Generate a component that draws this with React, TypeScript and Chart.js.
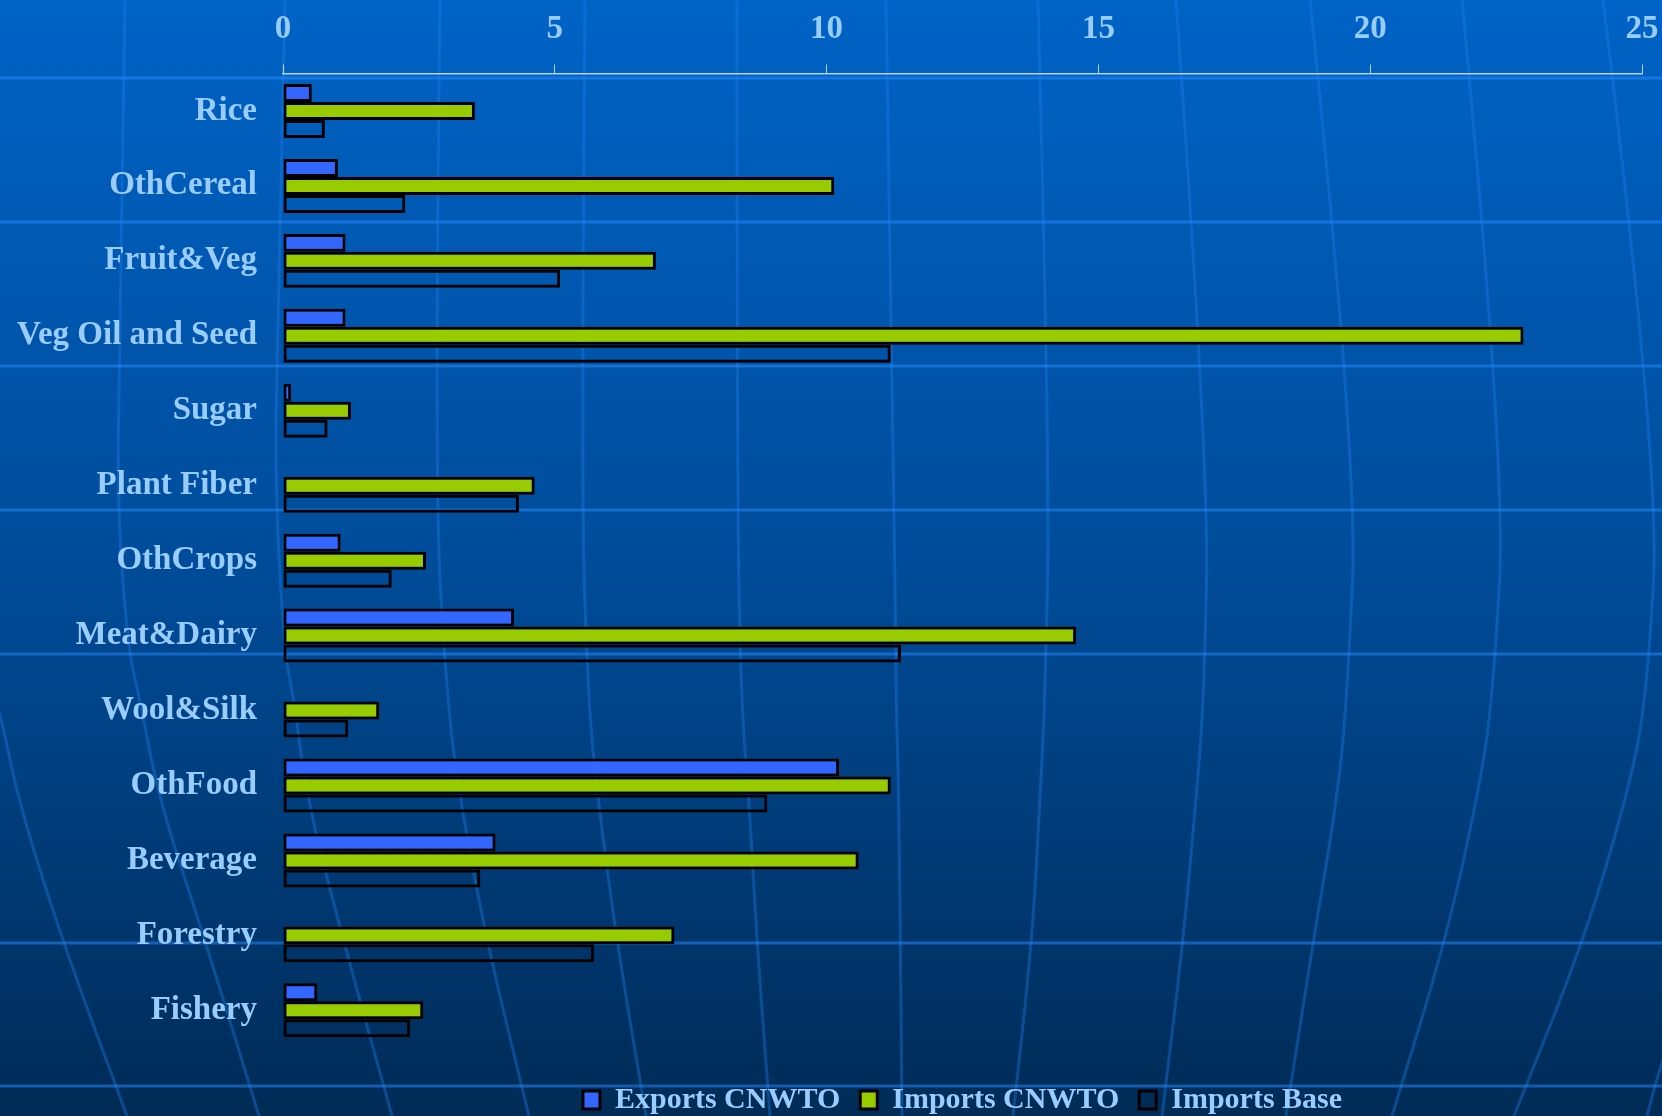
import React, { useEffect, useRef } from "react";
import { Chart, registerables } from "chart.js";

Chart.register(...registerables);

const categories = [
  "Rice",
  "OthCereal",
  "Fruit&Veg",
  "Veg Oil and Seed",
  "Sugar",
  "Plant Fiber",
  "OthCrops",
  "Meat&Dairy",
  "Wool&Silk",
  "OthFood",
  "Beverage",
  "Forestry",
  "Fishery",
];

const exportsCNWTO: (number | null)[] = [0.53, 1.01, 1.15, 1.15, 0.15, null, 1.06, 4.25, null, 10.23, 3.91, null, 0.63];
const importsCNWTO: number[] = [3.53, 10.14, 6.86, 22.82, 1.25, 4.63, 2.63, 14.59, 1.77, 11.18, 10.59, 7.2, 2.58];
const importsBase: number[] = [0.77, 2.25, 5.1, 11.18, 0.82, 4.34, 2.0, 11.37, 1.2, 8.91, 3.63, 5.72, 2.34];

const xTicks = [0, 5, 10, 15, 20, 25];

const FONT = "'Liberation Serif', 'Times New Roman', serif";
const LABEL = "#99CCFF";

// decorative globe background: meridian paths as [y, x] points
const meridians: number[][][] = [
  [[600, -30], [710, 0], [800, 18], [943, 63], [1116, 127]],
  [[0, 125], [350, 120], [500, 117], [650, 128], [700, 140], [800, 159], [943, 206], [1116, 259]],
  [[0, 285], [350, 277], [480, 275], [650, 284], [700, 294], [800, 307], [943, 344], [1116, 392]],
  [[0, 440], [480, 434], [700, 447], [800, 460], [943, 487], [1116, 529]],
  [[0, 585], [480, 581], [700, 588], [800, 598], [943, 617], [1116, 646]],
  [[0, 737], [480, 737], [700, 741], [800, 749], [943, 757], [1116, 770]],
  [[0, 886], [463, 894], [700, 896], [800, 899], [1116, 902]],
  [[0, 1038], [463, 1050], [700, 1045], [800, 1040], [943, 1032], [1116, 1013]],
  [[0, 1176], [463, 1209], [700, 1204], [800, 1196], [943, 1183], [1116, 1162]],
  [[0, 1310], [463, 1358], [700, 1347], [800, 1337], [943, 1313], [1116, 1286]],
  [[0, 1462], [463, 1506], [700, 1493], [800, 1477], [943, 1445], [1116, 1392]],
  [[0, 1603], [463, 1660], [700, 1647], [800, 1626], [943, 1583], [1116, 1514]],
  [[950, 1700], [1060, 1662], [1116, 1647]],
];
const latitudes = [78, 222, 366, 510, 654, 943, 1086];

const backgroundPlugin = {
  id: "globeBackground",
  beforeDraw(chart: any) {
    const { ctx, width, height } = chart;
    ctx.save();
    const grad = ctx.createLinearGradient(0, 0, 0, height);
    grad.addColorStop(0, "#0063C6");
    grad.addColorStop(0.5, "#004C9A");
    grad.addColorStop(1, "#002B56");
    ctx.fillStyle = grad;
    ctx.fillRect(0, 0, width, height);

    ctx.strokeStyle = "rgba(30,125,235,0.38)";
    ctx.lineWidth = 3;
    meridians.forEach((pts) => {
      ctx.beginPath();
      ctx.moveTo(pts[0][1], pts[0][0]);
      for (let i = 1; i < pts.length - 1; i++) {
        const mx = (pts[i][1] + pts[i + 1][1]) / 2;
        const my = (pts[i][0] + pts[i + 1][0]) / 2;
        ctx.quadraticCurveTo(pts[i][1], pts[i][0], mx, my);
      }
      const last = pts[pts.length - 1];
      ctx.lineTo(last[1], last[0]);
      ctx.stroke();
    });

    ctx.strokeStyle = "rgba(40,140,255,0.5)";
    ctx.lineWidth = 3;
    latitudes.forEach((y) => {
      ctx.beginPath();
      ctx.moveTo(0, y);
      ctx.lineTo(width, y);
      ctx.stroke();
    });
    ctx.restore();
  },
};

export default function App() {
  const ref = useRef<HTMLCanvasElement | null>(null);

  useEffect(() => {
    if (!ref.current) return;
    const chart = new Chart(ref.current, {
      type: "bar",
      data: {
        labels: categories,
        datasets: [
          {
            label: "Exports CNWTO",
            data: exportsCNWTO,
            backgroundColor: "#3366FF",
            borderColor: "#000000",
            borderWidth: 3,
            borderSkipped: false,
          },
          {
            label: "Imports CNWTO",
            data: importsCNWTO,
            backgroundColor: "#99CC00",
            borderColor: "#000000",
            borderWidth: 3,
            borderSkipped: false,
          },
          {
            label: "Imports Base",
            data: importsBase,
            backgroundColor: "rgba(0,0,0,0)",
            borderColor: "#000000",
            borderWidth: 3,
            borderSkipped: false,
          },
        ],
      },
      options: {
        indexAxis: "y",
        responsive: false,
        animation: false,
        maintainAspectRatio: false,
        layout: { padding: { top: 0, left: 0, right: 20, bottom: -9 } },
        datasets: {
          bar: { categoryPercentage: 0.72, barPercentage: 1.0 },
        },
        scales: {
          x: {
            position: "top",
            min: 0,
            max: 25,
            afterBuildTicks: (scale: any) => {
              scale.ticks = xTicks.map((v) => ({ value: v }));
            },
            afterFit: (scale: any) => {
              scale.height = 73.5;
              scale.paddingLeft = 0;
              scale.paddingRight = 0;
            },
            ticks: {
              color: LABEL,
              font: { family: FONT, size: 33, weight: "bold" },
              padding: 15,
            },
            grid: {
              drawOnChartArea: false,
              drawTicks: true,
              tickLength: 9,
              color: "#B8D4F0",
              lineWidth: 1,
            },
            border: { display: true, color: "#B8D4F0", width: 1.5 },
          },
          y: {
            afterFit: (scale: any) => {
              scale.width = 283;
              scale.paddingTop = 0;
              scale.paddingBottom = 0;
            },
            ticks: {
              color: LABEL,
              font: { family: FONT, size: 33, weight: "bold" },
              padding: 26,
            },
            grid: { display: false, drawTicks: false },
            border: { display: false },
          },
        },
        plugins: {
          legend: {
            position: "bottom",
            fullSize: false,
            title: {
              display: true,
              text: " ",
              color: "rgba(0,0,0,0)",
              font: { size: 1 },
              padding: { top: 8, bottom: 8 },
            },
            labels: {
              color: LABEL,
              font: { family: FONT, size: 30, weight: "bold" },
              boxWidth: 17,
              boxHeight: 18,
              padding: 20,
            },
          },
          tooltip: { enabled: false },
        },
      },
      plugins: [backgroundPlugin],
    } as any);
    return () => chart.destroy();
  }, []);

  return (
    <div style={{ position: "fixed", left: 0, top: 0, width: 1662, height: 1116 }}>
      <canvas ref={ref} width={1662} height={1116} style={{ display: "block" }} />
    </div>
  );
}
